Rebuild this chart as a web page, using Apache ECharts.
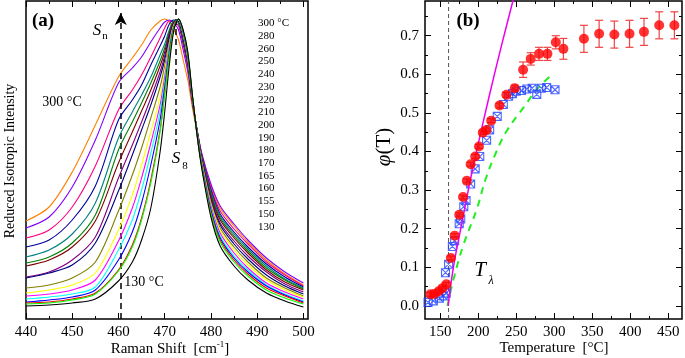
<!DOCTYPE html>
<html>
<head>
<meta charset="utf-8">
<script src="https://cdn.jsdelivr.net/npm/echarts@6/dist/echarts.min.js"></script>
<style>
  html, body { margin: 0; padding: 0; background: #fff; }
  #chart { width: 685px; height: 358px; }
</style>
</head>
<body>
<div id="chart"></div>
<script>
// ---- panel (a): reduced isotropic Raman spectra (arbitrary units, peak = 300) ----
var shift = [440,445,450,455,460,463,465,467,469,470,471,472,473,474,475,476,477,478,480,482,485,488,492,496,500];

var i300 = [98,112,147,194,242,261,274,289,298,300,297,289,279,259,239,211,187,164,133,111,93,77,59,45,34];
var i280 = [91,102,132,179,236,251,262,277,291,297,299,296,289,269,247,215,189,166,135,113,95,79,61,47,36];
var i260 = [81,89,112,153,209,229,244,262,281,291,298,297,293,274,251,217,189,165,131,108,90,75,57,44,33];
var i250 = [72,79,99,133,199,219,234,254,273,283,295,299,296,277,253,218,189,164,129,105,87,72,55,42,32];
var i240 = [62,69,85,116,181,207,224,242,264,275,289,298,297,279,255,219,189,163,127,103,85,70,53,40,31];
var i230 = [56,62,76,104,169,197,216,236,258,271,287,298,297,280,256,219,189,162,125,101,83,68,51,39,30];
var i220 = [53,59,72,98,156,187,208,229,253,267,285,297,298,281,257,219,188,161,123,99,81,66,49,37,29];
var i210 = [42,47,59,82,141,174,197,221,247,263,283,297,298,282,258,220,188,160,121,96,78,63,47,35,27];
var i200 = [41,46,54,76,128,164,189,214,242,259,281,296,298,283,259,220,187,159,119,94,75,60,44,33,25];
var i190 = [31,34,41,57,108,144,171,201,232,253,277,295,299,284,260,221,187,158,117,91,72,57,41,31,23];
var i180 = [26,29,34,46,89,124,154,187,222,247,274,294,299,285,261,221,186,157,115,89,69,54,39,29,22];
var i170 = [23,25,29,39,78,111,141,176,214,242,272,293,299,286,262,222,186,156,113,86,66,51,36,27,20];
var i165 = [20,22,25,32,69,99,129,166,207,237,270,293,299,286,263,222,185,155,111,83,63,49,34,25,18];
var i160 = [17,19,22,29,59,87,116,154,199,232,267,292,300,287,264,222,185,154,109,81,61,47,33,24,17];
var i155 = [16,17,20,26,49,74,101,139,189,226,264,292,300,288,265,223,184,153,107,79,59,45,31,23,16];
var i150 = [15,16,19,25,48,72,99,136,187,224,262,291,300,288,266,223,184,152,105,77,57,43,29,21,15];
var i130 = [13,14,16,20,38,57,79,111,167,207,254,289,300,289,267,224,184,151,102,73,53,39,26,18,12];

var spectraTemps = ['300 °C','280','260','250','240','230','220','210','200','190','180','170','165','160','155','150','130'];
var spectra = [i300,i280,i260,i250,i240,i230,i220,i210,i200,i190,i180,i170,i165,i160,i155,i150,i130];
var spectraColors = ['#FF8000','#8000FF','#FF0080','#0000A0','#008080','#008000','#800000','#800080',
                     '#000080','#808000','#FFFF00','#FF00FF','#00FFFF','#0000FF','#FF0000','#00FF00','#000000'];

var shiftMajor = [440,450,460,470,480,490,500];
var shiftMinor = [445,455,465,475,485,495];

// ---- panel (b): polymer fraction phi(T) ----
var redT   = [137,142,148,153,158,164,169,175,180,185,190,196,201,206,211,217,228,237,248,259,269,280,291,302,312,339,359,379,399,418,438,458];
var redPhi = [0.030,0.031,0.038,0.046,0.056,0.124,0.182,0.236,0.282,0.324,0.367,0.387,0.413,0.449,0.456,0.480,0.519,0.547,0.564,0.612,0.640,0.653,0.653,0.683,0.666,0.692,0.705,0.703,0.705,0.710,0.727,0.727];
var redErr = [0.005,0.005,0.005,0.005,0.005,0.005,0.005,0.005,0.005,0.005,0.005,0.005,0.005,0.005,0.005,0.005,0.006,0.006,0.008,0.020,0.016,0.017,0.017,0.017,0.027,0.035,0.035,0.035,0.035,0.035,0.035,0.035];

var blueT   = [134,141,149,154,158,157,161,166,169,175,177,181,184,190,196,202,211,215,225,233,240,245,250,257,264,271,277,283,290,301];
var bluePhi = [0.009,0.013,0.020,0.026,0.033,0.086,0.108,0.154,0.169,0.213,0.225,0.257,0.273,0.316,0.355,0.387,0.429,0.456,0.491,0.522,0.543,0.550,0.556,0.558,0.562,0.564,0.548,0.564,0.566,0.560];

var fitT   = [160.5,162,165,170,176,182,190,200,214,230,246];
var fitPhi = [0,0.028,0.07,0.13,0.19,0.25,0.33,0.42,0.54,0.67,0.793];

var meanT   = [159.5,167,180,198,210,224,238,260,278,296];
var meanPhi = [0,0.065,0.155,0.25,0.33,0.40,0.455,0.515,0.563,0.597];

var tLambda = 161;

var tempMajor = [150,200,250,300,350,400,450];
var tempMinor = [175,225,275,325,375,425];
var phiMajor  = [0,0.1,0.2,0.3,0.4,0.5,0.6,0.7];
var phiMinor  = [0.05,0.15,0.25,0.35,0.45,0.55,0.65,0.75];

var FONT = 'Liberation Serif';

function zip(xs, ys) {
  return xs.map(function (x, k) { return [x, ys[k]]; });
}

// one tick-only axis; labels only when labelValues given
function tickAxis(grid, pos, min, max, values, len, labelValues, fmt) {
  return {
    type: 'value', gridIndex: grid, position: pos, min: min, max: max,
    axisLine: { show: false, onZero: false },
    splitLine: { show: false },
    axisTick: { show: true, inside: true, length: len, customValues: values,
                lineStyle: { color: '#000', width: 1 } },
    axisLabel: labelValues ? {
      show: true, customValues: labelValues, margin: 6,
      fontFamily: FONT, fontSize: 15, color: '#000', formatter: fmt
    } : { show: false }
  };
}

var myChart = echarts.init(document.getElementById('chart'));

var series = [];
spectra.forEach(function (arr, k) {
  series.push({
    name: spectraTemps[k], type: 'line', xAxisIndex: 0, yAxisIndex: 0,
    data: zip(shift, arr), showSymbol: false, symbol: 'none', smooth: 0.3,
    lineStyle: { color: spectraColors[k], width: 1.1 }, z: 2 + k
  });
});
// dashed markers of panel (a)
series.push({
  type: 'line', xAxisIndex: 0, yAxisIndex: 0, data: [], silent: true,
  markLine: {
    silent: true, animation: false, label: { show: false },
    symbol: ['none', 'arrow'], symbolSize: [9, 12],
    lineStyle: { color: '#000', width: 1.5, type: [6, 4] },
    data: [[{ coord: [460.5, 0] }, { coord: [460.5, 306] }]]
  }, z: 30
});
series.push({
  type: 'line', xAxisIndex: 0, yAxisIndex: 0, data: [], silent: true,
  markLine: {
    silent: true, animation: false, label: { show: false },
    symbol: ['none', 'none'],
    lineStyle: { color: '#000', width: 1.5, type: [6, 4] },
    data: [[{ coord: [472.5, 174] }, { coord: [472.5, 318] }]]
  }, z: 30
});

// panel (b)
series.push({
  type: 'line', xAxisIndex: 4, yAxisIndex: 1, data: [[tLambda, -0.034], [tLambda, 0.79]],
  symbol: 'none', lineStyle: { color: '#555', width: 1, type: [4, 3] }, z: 2
});
series.push({
  type: 'line', xAxisIndex: 4, yAxisIndex: 1, data: zip(meanT, meanPhi),
  symbol: 'none', smooth: 0.4, lineStyle: { color: '#22ee22', width: 2, type: [7, 6] }, z: 3
});
series.push({
  type: 'scatter', xAxisIndex: 4, yAxisIndex: 1, data: zip(blueT, bluePhi),
  symbol: 'path://M0,0L10,0L10,10L0,10Z M0,0L10,10 M10,0L0,10', symbolSize: 8,
  itemStyle: { color: 'rgba(0,0,0,0)', borderColor: '#2244ff', borderWidth: 1.1 }, z: 4
});
series.push({
  type: 'line', xAxisIndex: 4, yAxisIndex: 1, data: zip(fitT, fitPhi),
  symbol: 'none', smooth: 0.3, lineStyle: { color: '#ee00ee', width: 1.5 }, z: 5
});
series.push({
  type: 'custom', xAxisIndex: 4, yAxisIndex: 1,
  data: redT.map(function (t, k) { return [t, redPhi[k] - redErr[k], redPhi[k] + redErr[k]]; }),
  encode: { x: 0, y: [1, 2] },
  renderItem: function (params, api) {
    var top = api.coord([api.value(0), api.value(2)]);
    var bot = api.coord([api.value(0), api.value(1)]);
    var w = 4;
    var st = { stroke: '#ee4444', lineWidth: 1.2 };
    return { type: 'group', children: [
      { type: 'line', shape: { x1: top[0], y1: top[1], x2: bot[0], y2: bot[1] }, style: st },
      { type: 'line', shape: { x1: top[0] - w, y1: top[1], x2: top[0] + w, y2: top[1] }, style: st },
      { type: 'line', shape: { x1: bot[0] - w, y1: bot[1], x2: bot[0] + w, y2: bot[1] }, style: st }
    ] };
  }, z: 6
});
series.push({
  type: 'scatter', xAxisIndex: 4, yAxisIndex: 1, data: zip(redT, redPhi),
  symbol: 'circle', symbolSize: 10, itemStyle: { color: '#ff0000' }, z: 7
});

// texts
var txt = function (x, y, text, size, extra) {
  var s = { text: text, fontFamily: FONT, fontSize: size, fill: '#000', align: 'center', verticalAlign: 'middle' };
  for (var k in extra || {}) s[k] = extra[k];
  return { type: 'text', x: x, y: y, style: s, z: 100 };
};
var graphics = [
  txt(43, 21, '(a)', 19, { fontWeight: 'bold' }),
  txt(97, 31, 'S', 17, { fontStyle: 'italic' }),
  txt(105, 36, 'n', 11),
  txt(62, 102, '300 °C', 14),
  txt(176, 159, 'S', 17, { fontStyle: 'italic' }),
  txt(185, 166, '8', 11),
  txt(144, 282, '130 °C', 14),
  txt(468, 21, '(b)', 19, { fontWeight: 'bold' }),
  txt(480, 270, 'T', 21, { fontStyle: 'italic' }),
  txt(491, 281, 'λ', 12, { fontStyle: 'italic' }),
  txt(170, 349, '{a|Raman Shift  [cm}{s|-1}{a|]}', 15, {
    rich: { a: { fontFamily: FONT, fontSize: 15, lineHeight: 18 },
            s: { fontFamily: FONT, fontSize: 9, verticalAlign: 'top', lineHeight: 18 } } }),
  txt(554, 348, 'Temperature  [°C]', 15),
  { type: 'text', x: 10, y: 161, rotation: Math.PI / 2, z: 100,
    style: { text: 'Reduced Isotropic Intensity', fontFamily: FONT, fontSize: 14, fill: '#000',
             align: 'center', verticalAlign: 'middle' } },
  { type: 'text', x: 384, y: 147, rotation: Math.PI / 2, z: 100,
    style: { text: '{i|φ}(T)', fontFamily: FONT, fontSize: 21, fill: '#000',
             align: 'center', verticalAlign: 'middle',
             rich: { i: { fontFamily: FONT, fontSize: 21, fontStyle: 'italic' } } } }
];
spectraTemps.forEach(function (t, k) {
  graphics.push(txt(258, 23.5 + k * 12.7, t, 11, { align: 'left' }));
});

var option = {
  animation: false,
  backgroundColor: '#fff',
  grid: [
    { left: 26, top: 1, width: 282, height: 318, show: true, borderColor: '#000', borderWidth: 1.5 },
    { left: 425, top: 1, width: 257, height: 318, show: true, borderColor: '#000', borderWidth: 1.5 }
  ],
  xAxis: [
    tickAxis(0, 'bottom', 440, 501, shiftMajor, 6, shiftMajor),
    tickAxis(0, 'bottom', 440, 501, shiftMinor, 3),
    tickAxis(0, 'top', 440, 501, shiftMajor, 6),
    tickAxis(0, 'top', 440, 501, shiftMinor, 3),
    tickAxis(1, 'bottom', 130, 468, tempMajor, 6, tempMajor),
    tickAxis(1, 'bottom', 130, 468, tempMinor, 3),
    tickAxis(1, 'top', 130, 468, tempMajor, 6),
    tickAxis(1, 'top', 130, 468, tempMinor, 3)
  ],
  yAxis: [
    { type: 'value', gridIndex: 0, min: 0, max: 318, show: false },
    tickAxis(1, 'left', -0.034, 0.79, phiMajor, 6, phiMajor, function (v) { return v.toFixed(1); }),
    tickAxis(1, 'left', -0.034, 0.79, phiMinor, 3),
    tickAxis(1, 'right', -0.034, 0.79, phiMajor, 6),
    tickAxis(1, 'right', -0.034, 0.79, phiMinor, 3)
  ],
  graphic: graphics,
  series: series
};

myChart.setOption(option);
window.addEventListener('resize', function () { myChart.resize(); });
</script>
</body>
</html>
